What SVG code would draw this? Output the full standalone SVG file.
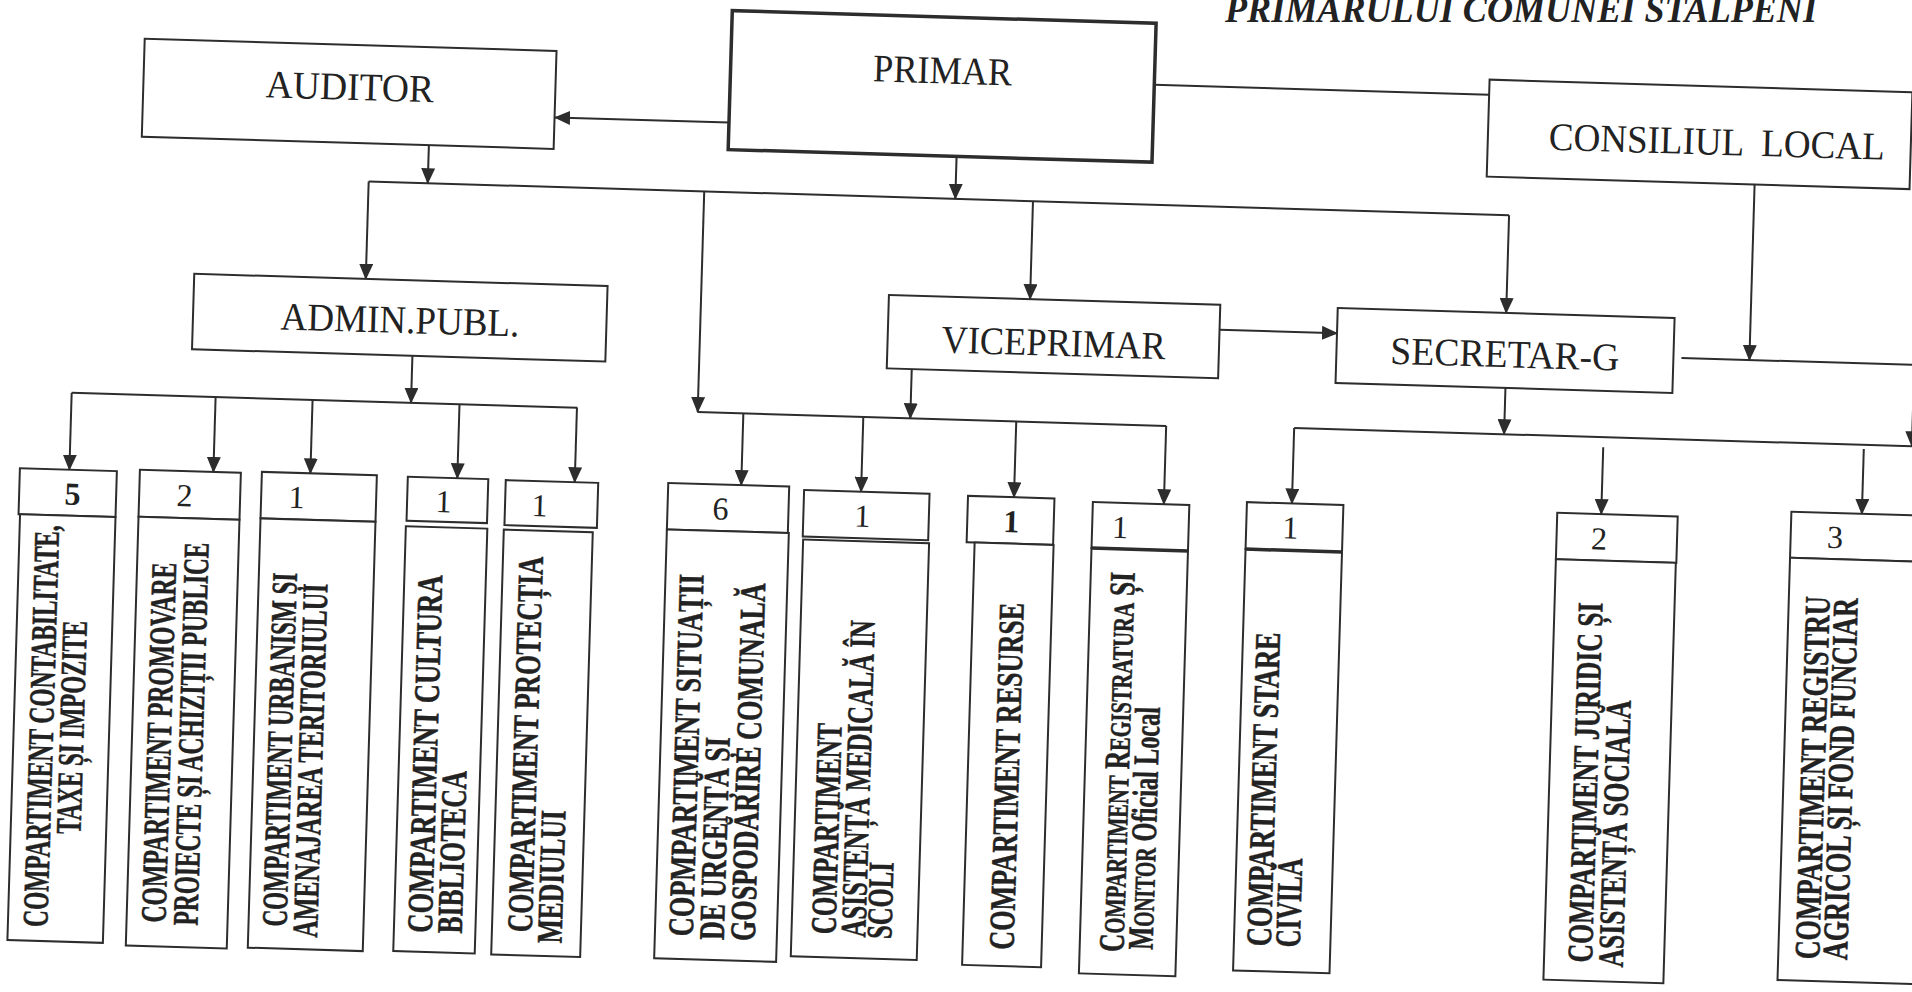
<svg xmlns="http://www.w3.org/2000/svg" width="1912" height="992" viewBox="0 0 1912 992">
<defs>
<marker id="ah" markerUnits="userSpaceOnUse" markerWidth="16" markerHeight="14" refX="15" refY="7" orient="auto"><path d="M0,0 L16,7 L0,14 z" fill="#2d2d2d"/></marker>
<style>
.box{fill:#fff;stroke:#2d2d2d;stroke-width:2}
.thick{stroke-width:3.5}
.ln{fill:none;stroke:#2d2d2d;stroke-width:2}
.div{fill:none;stroke:#2d2d2d;stroke-width:3.5}
.arr{fill:none;stroke:#2d2d2d;stroke-width:2;marker-end:url(#ah)}
.lbl{font-family:"Liberation Serif","Times New Roman",serif;font-size:39px;fill:#222;text-anchor:middle}
.num{font-family:"Liberation Serif","Times New Roman",serif;font-size:32px;fill:#222;text-anchor:middle}
.b{font-weight:bold}
.vt{font-family:"Liberation Serif","Times New Roman",serif;font-size:36px;font-weight:bold;fill:#222;stroke:#222;stroke-width:0.5}
.sc{font-size:29px}
.title{font-family:"Liberation Serif","Times New Roman",serif;font-size:38px;font-weight:bold;font-style:italic;fill:#222}
</style>
</defs>
<rect width="1912" height="992" fill="#fff"/>
<text class="title" x="1225" y="22" textLength="592" lengthAdjust="spacingAndGlyphs">PRIMARULUI COMUNEI STALPENI</text>
<g transform="rotate(1.7 956 496)">
<g id="connectors">
<line class="arr" x1="718" y1="129.5" x2="544" y2="129.5"/>
<line class="arr" x1="418.7" y1="161" x2="418.7" y2="199"/>
<line class="arr" x1="946.5" y1="157" x2="946.5" y2="199"/>
<line class="ln" x1="359.6" y1="199" x2="1500.5" y2="199"/>
<line class="arr" x1="359.6" y1="199" x2="359.6" y2="296.5"/>
<line class="arr" x1="695.3" y1="199" x2="695.3" y2="419.7"/>
<line class="arr" x1="1024.2" y1="199" x2="1024.2" y2="297"/>
<line class="arr" x1="1500.5" y1="199" x2="1500.5" y2="296.7"/>
<line class="arr" x1="408.5" y1="372" x2="408.5" y2="419"/>
<line class="ln" x1="69" y1="419" x2="575" y2="419"/>
<line class="arr" x1="908" y1="370.5" x2="908" y2="419.7"/>
<line class="ln" x1="695.3" y1="419.7" x2="1164" y2="419.7"/>
<line class="arr" x1="1214.5" y1="322" x2="1332" y2="322"/>
<line class="ln" x1="1142" y1="79" x2="1477" y2="79"/>
<line class="arr" x1="1745" y1="161" x2="1745" y2="336.5"/>
<line class="ln" x1="1677" y1="336.5" x2="1940" y2="336.5"/>
<line class="arr" x1="1502" y1="371.7" x2="1502" y2="418"/>
<line class="ln" x1="1292" y1="418" x2="1940" y2="418"/>
<line class="arr" x1="1910" y1="380" x2="1910" y2="418"/>
<line class="arr" x1="69" y1="419" x2="69" y2="496"/>
<line class="arr" x1="213" y1="419" x2="213" y2="494"/>
<line class="arr" x1="310" y1="419" x2="310" y2="492.5"/>
<line class="arr" x1="457" y1="419" x2="457" y2="493"/>
<line class="arr" x1="574.5" y1="419" x2="574.5" y2="493.5"/>
<line class="arr" x1="741" y1="419.7" x2="741" y2="491.5"/>
<line class="arr" x1="861" y1="419.7" x2="861" y2="494.5"/>
<line class="arr" x1="1014" y1="419.7" x2="1014" y2="495.5"/>
<line class="arr" x1="1164" y1="419.7" x2="1164" y2="498"/>
<line class="arr" x1="1292" y1="418" x2="1292" y2="493.5"/>
<line class="arr" x1="1601.5" y1="428" x2="1601.5" y2="495"/>
<line class="arr" x1="1862" y1="422" x2="1862" y2="487"/>
</g>
<g id="primar">
<rect class="box thick" x="718" y="17.5" width="424" height="139"/>
<text class="lbl" x="930" y="84" textLength="139" lengthAdjust="spacingAndGlyphs">PRIMAR</text>
</g>
<g id="auditor">
<rect class="box" x="131.5" y="63" width="412" height="98"/>
<text class="lbl" x="338" y="118" textLength="168" lengthAdjust="spacingAndGlyphs">AUDITOR</text>
</g>
<g id="consiliul-local">
<rect class="box" x="1477" y="64" width="423" height="97"/>
<text class="lbl" x="1538" y="132.4" style="text-anchor:start;white-space:pre" textLength="336" lengthAdjust="spacingAndGlyphs">CONSILIUL  LOCAL</text>
</g>
<g id="admin-publ">
<rect class="box" x="188" y="296.5" width="413.5" height="75.5"/>
<text class="lbl" x="395" y="349.5" textLength="239" lengthAdjust="spacingAndGlyphs">ADMIN.PUBL.</text>
</g>
<g id="viceprimar">
<rect class="box" x="883" y="297" width="331.5" height="73.5"/>
<text class="lbl" x="1049" y="353" textLength="224" lengthAdjust="spacingAndGlyphs">VICEPRIMAR</text>
</g>
<g id="secretar-g">
<rect class="box" x="1332" y="296.7" width="337" height="75"/>
<text class="lbl" x="1500.5" y="351" textLength="229" lengthAdjust="spacingAndGlyphs">SECRETAR-G</text>
</g>
<g id="c-contabilitate">
<rect class="box" x="19.5" y="496" width="97" height="46"/>
<rect class="box" x="21" y="542" width="95.5" height="426"/>
<text class="num b" x="73" y="531">5</text>
<text class="vt" transform="translate(60.5,954) rotate(-90)" textLength="402" lengthAdjust="spacingAndGlyphs">COMPARTIMENT CONTABILITATE,</text>
<text class="vt" transform="translate(91,860) rotate(-90)" textLength="213" lengthAdjust="spacingAndGlyphs">TAXE ȘI IMPOZITE</text>
</g>
<g id="c-promovare">
<rect class="box" x="139.5" y="494" width="101" height="47"/>
<rect class="box" x="139.5" y="541" width="101" height="429"/>
<text class="num" x="185" y="529">2</text>
<text class="vt" transform="translate(178.5,946) rotate(-90)" textLength="360" lengthAdjust="spacingAndGlyphs">COMPARTIMENT PROMOVARE</text>
<text class="vt" transform="translate(210.5,948) rotate(-90)" textLength="383" lengthAdjust="spacingAndGlyphs">PROIECTE ȘI ACHIZIȚII PUBLICE</text>
</g>
<g id="c-urbanism">
<rect class="box" x="261.5" y="492.5" width="115" height="46.5"/>
<rect class="box" x="261.5" y="539" width="115" height="429.5"/>
<text class="num" x="297" y="527.5">1</text>
<text class="vt" transform="translate(299.5,946.5) rotate(-90)" textLength="354" lengthAdjust="spacingAndGlyphs">COMPARTIMENT URBANISM ȘI</text>
<text class="vt" transform="translate(330.5,956.5) rotate(-90)" textLength="354" lengthAdjust="spacingAndGlyphs">AMENAJAREA TERITORIULUI</text>
</g>
<g id="c-cultura">
<rect class="box" x="407.5" y="493" width="80.5" height="44"/>
<rect class="box" x="407" y="542.5" width="81.5" height="425"/>
<text class="num" x="444" y="527.5">1</text>
<text class="vt" transform="translate(445,948.3) rotate(-90)" textLength="358" lengthAdjust="spacingAndGlyphs">COMPARTIMENT CULTURA</text>
<text class="vt" transform="translate(475,948.3) rotate(-90)" textLength="163" lengthAdjust="spacingAndGlyphs">BIBLIOTECA</text>
</g>
<g id="c-protectia">
<rect class="box" x="505.5" y="493.5" width="92.5" height="45"/>
<rect class="box" x="505" y="543" width="89" height="425"/>
<text class="num" x="540" y="528.5">1</text>
<text class="vt" transform="translate(545,945) rotate(-90)" textLength="376" lengthAdjust="spacingAndGlyphs">COMPARTIMENT PROTECȚIA</text>
<text class="vt" transform="translate(575,955) rotate(-90)" textLength="133" lengthAdjust="spacingAndGlyphs">MEDIULUI</text>
</g>
<g id="c-situatii">
<rect class="box" x="668" y="491.5" width="121" height="46.5"/>
<rect class="box" x="668" y="538" width="122" height="429"/>
<text class="num" x="721" y="526.5">6</text>
<text class="vt" transform="translate(706,944) rotate(-90)" textLength="362" lengthAdjust="spacingAndGlyphs">COPMPARTIMENT SITUAȚII</text>
<text class="vt" transform="translate(737,947) rotate(-90)" textLength="203" lengthAdjust="spacingAndGlyphs">DE URGENȚĂ ȘI</text>
<text class="vt" transform="translate(768,947) rotate(-90)" textLength="358" lengthAdjust="spacingAndGlyphs">GOSPODĂRIRE COMUNALĂ</text>
</g>
<g id="c-asistenta-medicala">
<rect class="box" x="804" y="494.5" width="125.5" height="46.5"/>
<rect class="box" x="804.5" y="544" width="126" height="417"/>
<text class="num" x="863" y="529.5">1</text>
<text class="vt" transform="translate(848.5,938) rotate(-90)" textLength="211" lengthAdjust="spacingAndGlyphs">COMPARTIMENT</text>
<text class="vt" transform="translate(878.5,940) rotate(-90)" textLength="317" lengthAdjust="spacingAndGlyphs">ASISTENȚĂ MEDICALĂ ÎN</text>
<text class="vt" transform="translate(904.5,941) rotate(-90)" textLength="77" lengthAdjust="spacingAndGlyphs">SCOLI</text>
</g>
<g id="c-resurse">
<rect class="box" x="968" y="495.5" width="86.5" height="46.5"/>
<rect class="box" x="976" y="542" width="79" height="422.5"/>
<text class="num b" x="1012" y="530.5">1</text>
<text class="vt" transform="translate(1027,948) rotate(-90)" textLength="347" lengthAdjust="spacingAndGlyphs">COMPARTIMENT RESURSE</text>
</g>
<g id="c-registratura">
<rect class="box" x="1093" y="498" width="96.5" height="46"/>
<rect class="box" x="1093" y="544" width="96.5" height="425.5"/>
<line class="div" x1="1093" y1="544" x2="1189.5" y2="544"/>
<text class="num" x="1121" y="533">1</text>
<text class="vt" transform="translate(1137,947) rotate(-90)" textLength="380" lengthAdjust="spacingAndGlyphs">C<tspan class="sc">OMPARTIMENT</tspan> R<tspan class="sc">EGISTRATURA</tspan> ȘI</text>
<text class="vt" transform="translate(1166,944) rotate(-90)" textLength="243" lengthAdjust="spacingAndGlyphs">M<tspan class="sc">ONITOR</tspan> Oficial Local</text>
</g>
<g id="c-stare-civila">
<rect class="box" x="1247" y="493.5" width="96.5" height="47"/>
<rect class="box" x="1247" y="540.5" width="96.5" height="421.5"/>
<line class="div" x1="1247" y1="540.5" x2="1343.5" y2="540.5"/>
<text class="num" x="1291" y="528.5">1</text>
<text class="vt" transform="translate(1284,937) rotate(-90)" textLength="314" lengthAdjust="spacingAndGlyphs">COMPARTIMENT STARE</text>
<text class="vt" transform="translate(1313,937) rotate(-90)" textLength="89" lengthAdjust="spacingAndGlyphs">CIVILĂ</text>
</g>
<g id="c-juridic">
<rect class="box" x="1557.5" y="495" width="120.5" height="46.5"/>
<rect class="box" x="1557.5" y="541.5" width="120" height="420.5"/>
<text class="num" x="1600" y="530.5">2</text>
<text class="vt" transform="translate(1605.5,943.6) rotate(-90)" textLength="360" lengthAdjust="spacingAndGlyphs">COMPARTIMENT JURIDIC ȘI</text>
<text class="vt" transform="translate(1636.5,947.6) rotate(-90)" textLength="267" lengthAdjust="spacingAndGlyphs">ASISTENȚĂ SOCIALĂ</text>
</g>
<g id="c-registru-agricol">
<rect class="box" x="1791.5" y="487" width="150" height="46"/>
<rect class="box" x="1791.5" y="533" width="150" height="422.5"/>
<text class="num" x="1836" y="522">3</text>
<text class="vt" transform="translate(1832.5,933.7) rotate(-90)" textLength="363" lengthAdjust="spacingAndGlyphs">COMPARTIMENT REGISTRU</text>
<text class="vt" transform="translate(1860.5,933.7) rotate(-90)" textLength="362" lengthAdjust="spacingAndGlyphs">AGRICOL ȘI FOND FUNCIAR</text>
</g>
</g>
</svg>
